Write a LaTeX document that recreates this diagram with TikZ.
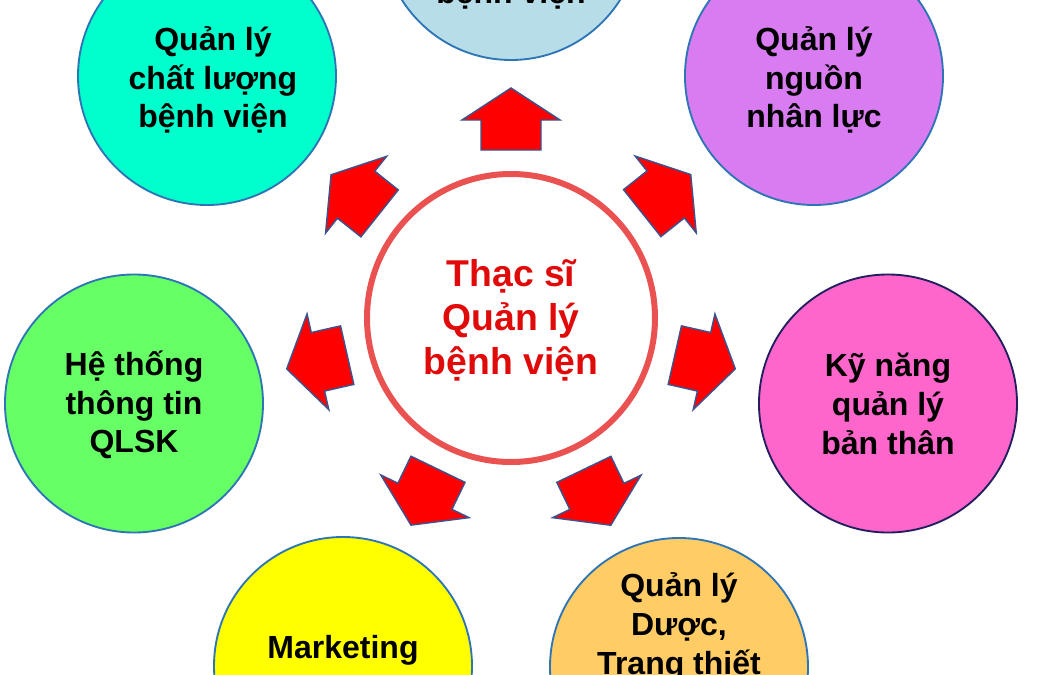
\documentclass[tikz,border=0pt]{standalone}
\usepackage{fontspec}
\setmainfont{Liberation Sans}
\usetikzlibrary{calc}
\definecolor{cyanC}{RGB}{0,255,204}
\definecolor{blueC}{RGB}{183,222,232}
\definecolor{purpleC}{RGB}{217,124,242}
\definecolor{greenC}{RGB}{102,255,102}
\definecolor{pinkC}{RGB}{255,102,204}
\definecolor{yellowC}{RGB}{255,255,0}
\definecolor{orangeC}{RGB}{255,204,102}
\definecolor{edgeC}{RGB}{46,117,182}
\definecolor{navyC}{RGB}{35,30,95}
\definecolor{ringC}{RGB}{234,82,82}
\definecolor{arrowEdge}{RGB}{62,82,140}
\definecolor{centerText}{RGB}{225,10,10}
\begin{document}
\begin{tikzpicture}[x=0.75pt,y=-0.75pt,
  sat/.style={circle, draw=edgeC, line width=1.4pt, minimum size=193.5pt, inner sep=0pt},
  sattext/.style={font=\bfseries\fontsize{24}{29}\selectfont, align=center, text=black, inner sep=0pt},
  centertext/.style={font=\bfseries\fontsize{28}{33}\selectfont, align=center, text=centerText, inner sep=0pt},
  arrowsty/.style={fill=red, draw=arrowEdge, line width=1.1pt, line join=miter},
  blockarrow/.pic={\draw[arrowsty] (-31,-30) -- (-1,-30) -- (-1,-49) -- (31,0) -- (-1,49) -- (-1,30) -- (-31,30) -- cycle;}
]
\useasboundingbox (0,0) rectangle (1061,675);
\clip (0,0) rectangle (1061,675);
\fill[white] (0,0) rectangle (1061,675);

% centre
\node[circle, draw=ringC, line width=4.5pt, fill=white, minimum size=216pt, inner sep=0pt] (c) at (511,318) {};
\node[centertext] (ct) at (511,320) {Thạc sĩ\\Quản lý\\bệnh viện};

% satellites
\node[sat, fill=blueC] (top) at (511,-69) {};
\node[sat, fill=cyanC] (ul) at (207,76) {};
\node[sat, fill=purpleC] (ur) at (814,76) {};
\node[sat, fill=greenC] (le) at (134,403.5) {};
\node[sat, fill=pinkC, draw=navyC] (ri) at (888,403.5) {};
\node[sat, fill=yellowC] (bl) at (343,666) {};
\node[sat, fill=orangeC] (br) at (679,667) {};

% satellite texts
\node[sattext, anchor=base] (toptext) at (511,3) {bệnh viện};
\node[sattext] (ult) at (213,80) {Quản lý\\chất lượng\\bệnh viện};
\node[sattext] (urt) at (814,80) {Quản lý\\nguồn\\nhân lực};
\node[sattext] (let) at (134,405) {Hệ thống\\thông tin\\QLSK};
\node[sattext] (rit) at (888,404) {Kỹ năng\\quản lý\\bản thân};
\node[sattext, anchor=base] (blt) at (343,658) {Marketing};
\node[sattext] (brt) at (679,627) {Quản lý\\Dược,\\Trang thiết};

% arrows
\pic[rotate=90] at ($(c)!149.25pt!(top)$) {blockarrow};
\pic[rotate=141.5] at ($(c)!149.25pt!(ul)$) {blockarrow};
\pic[rotate=38.5] at ($(c)!149.25pt!(ur)$) {blockarrow};
\pic[rotate=192.8] at ($(c)!149.25pt!(le)$) {blockarrow};
\pic[rotate=-12.8] at ($(c)!149.25pt!(ri)$) {blockarrow};
\pic[rotate=244.2] at ($(c)!149.25pt!(bl)$) {blockarrow};
\pic[rotate=-64.3] at ($(c)!149.25pt!(br)$) {blockarrow};
\end{tikzpicture}
\end{document}
